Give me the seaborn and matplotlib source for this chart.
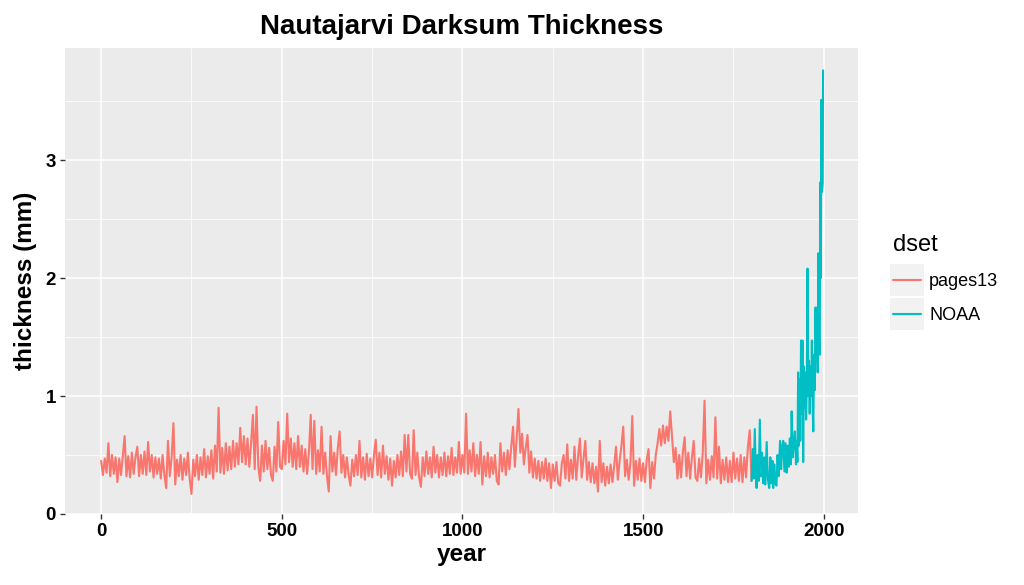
import numpy as np
import pandas as pd
import matplotlib
matplotlib.use("Agg")
import matplotlib.pyplot as plt
from matplotlib.patches import Rectangle
from matplotlib.transforms import IdentityTransform
import seaborn as sns

# pages13 series, one value every 5 years from year 0 to 1800
pages_years = np.arange(0, 1801, 5)
pages_vals = [
    0.45, 0.33, 0.47, 0.35, 0.60, 0.32, 0.50, 0.34, 0.48, 0.27,
    0.47, 0.33, 0.50, 0.66, 0.32, 0.49, 0.31, 0.52, 0.34, 0.48,
    0.57, 0.32, 0.50, 0.34, 0.53, 0.33, 0.61, 0.36, 0.50, 0.31,
    0.48, 0.34, 0.47, 0.30, 0.50, 0.33, 0.22, 0.62, 0.32, 0.48,
    0.77, 0.25, 0.46, 0.32, 0.50, 0.29, 0.47, 0.33, 0.52, 0.30,
    0.17, 0.46, 0.32, 0.50, 0.29, 0.48, 0.33, 0.55, 0.31, 0.49,
    0.34, 0.54, 0.30, 0.58, 0.36, 0.90, 0.35, 0.56, 0.34, 0.60,
    0.37, 0.57, 0.38, 0.62, 0.40, 0.60, 0.42, 0.73, 0.44, 0.66,
    0.42, 0.64, 0.40, 0.60, 0.84, 0.38, 0.91, 0.40, 0.28, 0.58,
    0.36, 0.62, 0.38, 0.56, 0.33, 0.28, 0.57, 0.36, 0.78, 0.40,
    0.38, 0.62, 0.42, 0.85, 0.44, 0.64, 0.40, 0.60, 0.38, 0.66,
    0.40, 0.58, 0.36, 0.55, 0.34, 0.52, 0.84, 0.38, 0.79, 0.34,
    0.54, 0.36, 0.74, 0.34, 0.52, 0.32, 0.19, 0.66, 0.36, 0.52,
    0.33, 0.56, 0.70, 0.35, 0.50, 0.31, 0.48, 0.33, 0.24, 0.46,
    0.32, 0.50, 0.33, 0.62, 0.31, 0.48, 0.29, 0.51, 0.32, 0.47,
    0.31, 0.50, 0.63, 0.33, 0.52, 0.31, 0.58, 0.34, 0.49, 0.29,
    0.47, 0.24, 0.45, 0.31, 0.50, 0.33, 0.53, 0.32, 0.67, 0.36,
    0.67, 0.34, 0.30, 0.71, 0.33, 0.52, 0.31, 0.23, 0.48, 0.32,
    0.53, 0.34, 0.48, 0.31, 0.57, 0.35, 0.50, 0.31, 0.48, 0.33,
    0.52, 0.32, 0.49, 0.34, 0.56, 0.33, 0.48, 0.35, 0.61, 0.34,
    0.50, 0.35, 0.85, 0.34, 0.54, 0.36, 0.60, 0.32, 0.50, 0.34,
    0.61, 0.25, 0.49, 0.32, 0.52, 0.31, 0.48, 0.34, 0.50, 0.28,
    0.25, 0.60, 0.36, 0.52, 0.33, 0.54, 0.38, 0.57, 0.74, 0.40,
    0.64, 0.89, 0.52, 0.68, 0.42, 0.56, 0.67, 0.35, 0.53, 0.31,
    0.47, 0.30, 0.45, 0.28, 0.44, 0.30, 0.47, 0.28, 0.43, 0.22,
    0.42, 0.28, 0.44, 0.26, 0.24, 0.43, 0.50, 0.30, 0.59, 0.28,
    0.46, 0.30, 0.57, 0.29, 0.49, 0.64, 0.31, 0.47, 0.62, 0.29,
    0.44, 0.27, 0.43, 0.26, 0.40, 0.19, 0.62, 0.27, 0.43, 0.24,
    0.40, 0.26, 0.42, 0.27, 0.41, 0.57, 0.29, 0.45, 0.58, 0.74,
    0.32, 0.46, 0.29, 0.44, 0.83, 0.24, 0.45, 0.29, 0.47, 0.28,
    0.43, 0.27, 0.46, 0.55, 0.22, 0.44, 0.30, 0.50, 0.60, 0.72,
    0.58, 0.75, 0.60, 0.74, 0.62, 0.87, 0.66, 0.44, 0.56, 0.30,
    0.50, 0.31, 0.53, 0.65, 0.32, 0.52, 0.30, 0.48, 0.62, 0.31,
    0.28, 0.47, 0.31, 0.52, 0.96, 0.26, 0.46, 0.29, 0.49, 0.31,
    0.82, 0.30, 0.57, 0.26, 0.46, 0.29, 0.48, 0.27, 0.45, 0.27,
    0.52, 0.30, 0.47, 0.28, 0.50, 0.27, 0.48, 0.31, 0.57, 0.71,
    0.28,
]

# NOAA series, 1800 to 1998
noaa_years = [
    1800, 1803, 1806, 1809, 1812, 1814, 1817, 1820, 1823, 1826,
    1829, 1832, 1835, 1838, 1842, 1845, 1849, 1852, 1855, 1858,
    1860, 1863, 1866, 1869, 1872, 1875, 1879, 1882, 1885, 1888,
    1891, 1894, 1897, 1900, 1903, 1906, 1909, 1911, 1914, 1917,
    1920, 1923, 1925, 1927, 1929, 1931, 1933, 1935, 1937, 1939,
    1941, 1943, 1945, 1947, 1949, 1951, 1953, 1955, 1957, 1959,
    1961, 1963, 1965, 1967, 1969, 1971, 1973, 1975, 1977, 1979,
    1981, 1983, 1985, 1987, 1989, 1990, 1992, 1993, 1995, 1997,
    1998,
]
noaa_vals = [
    0.28, 0.55, 0.30, 0.72, 0.33, 0.22, 0.50, 0.28, 0.80, 0.32,
    0.52, 0.26, 0.48, 0.25, 0.61, 0.30, 0.22, 0.48, 0.26, 0.45,
    0.22, 0.42, 0.26, 0.24, 0.50, 0.32, 0.62, 0.38, 0.58, 0.62,
    0.36, 0.60, 0.35, 0.58, 0.40, 0.64, 0.42, 0.87, 0.48, 0.60,
    0.70, 0.42, 0.62, 0.44, 1.20, 0.58, 1.14, 0.62, 1.47, 0.85,
    1.47, 0.44, 1.25, 0.90, 1.20, 0.80, 1.10, 2.08, 1.00, 1.30,
    0.85, 1.25, 1.00, 1.47, 0.95, 0.70, 1.35, 1.05, 1.75, 1.30,
    1.75, 1.20, 2.21, 1.40, 1.35, 2.81, 2.00, 3.51, 2.73, 2.80,
    3.76,
]

df = pd.concat([
    pd.DataFrame({"year": pages_years, "thickness": pages_vals, "dset": "pages13"}),
    pd.DataFrame({"year": noaa_years, "thickness": noaa_vals, "dset": "NOAA"}),
], ignore_index=True)

sns.set_theme(style="darkgrid", rc={
    "axes.facecolor": "#EBEBEB",
    "grid.color": "white",
    "axes.edgecolor": "#EBEBEB",
    "text.color": "black",
    "axes.labelcolor": "black",
})
plt.rcParams["font.family"] = ["Liberation Sans", "DejaVu Sans"]

fig = plt.figure(figsize=(10.24, 5.85), dpi=100)
# panel: x 65..858 px, y 48..514 px
ax = fig.add_axes([0.0635, 0.1214, 0.7745, 0.7966])

sns.lineplot(data=df, x="year", y="thickness", hue="dset",
             palette={"pages13": "#F8766D", "NOAA": "#00BFC4"},
             estimator=None, linewidth=1.5, ax=ax)

ax.set_xlim(-100, 2095)
ax.set_ylim(0, 3.95)
ax.set_xticks([0, 500, 1000, 1500, 2000])
ax.set_xticks([250, 750, 1250, 1750], minor=True)
ax.set_yticks([0, 1, 2, 3])
ax.set_yticks([0.5, 1.5, 2.5, 3.5], minor=True)
ax.grid(which="major", color="white", linewidth=1.1)
ax.grid(which="minor", color="white", linewidth=0.55)
for s in ax.spines.values():
    s.set_visible(False)
ax.tick_params(axis="both", which="major", length=3.5, width=1, color="#333333",
               labelsize=13.5, labelcolor="black", pad=3, bottom=True, left=True)
ax.tick_params(which="minor", length=0)
for lab in ax.get_xticklabels() + ax.get_yticklabels():
    lab.set_fontweight("bold")

ax.set_xlabel("year", fontsize=17.5, fontweight="bold", labelpad=2, color="black")
ax.set_ylabel("thickness (mm)", fontsize=17.5, fontweight="bold", labelpad=6, color="black")
ax.set_title("Nautajarvi Darksum Thickness", fontsize=20, fontweight="bold", pad=10,
             color="black")

leg = ax.legend(title="dset", loc="center left",
                bbox_to_anchor=(893 / 1024, 1 - 279 / 585), bbox_transform=fig.transFigure,
                frameon=False, fontsize=13, title_fontsize=17,
                handlelength=1.55, handletextpad=0.45, labelspacing=0.95,
                borderpad=0, borderaxespad=0, alignment="left")
leg.get_title().set_color("black")
for t in leg.get_texts():
    t.set_color("black")
for h in leg.legend_handles:
    h.set_linewidth(1.5)

# grey key boxes behind legend lines, as in ggplot
fig.canvas.draw()
renderer = fig.canvas.get_renderer()
for h in leg.legend_handles:
    bb = h.get_window_extent(renderer)
    cx = (bb.x0 + bb.x1) / 2
    cy = (bb.y0 + bb.y1) / 2
    fig.add_artist(Rectangle((cx - 17, cy - 16), 34, 32, transform=IdentityTransform(),
                             facecolor="#F2F2F2", edgecolor="none", zorder=-1))

fig.savefig("out.png", dpi=100)
